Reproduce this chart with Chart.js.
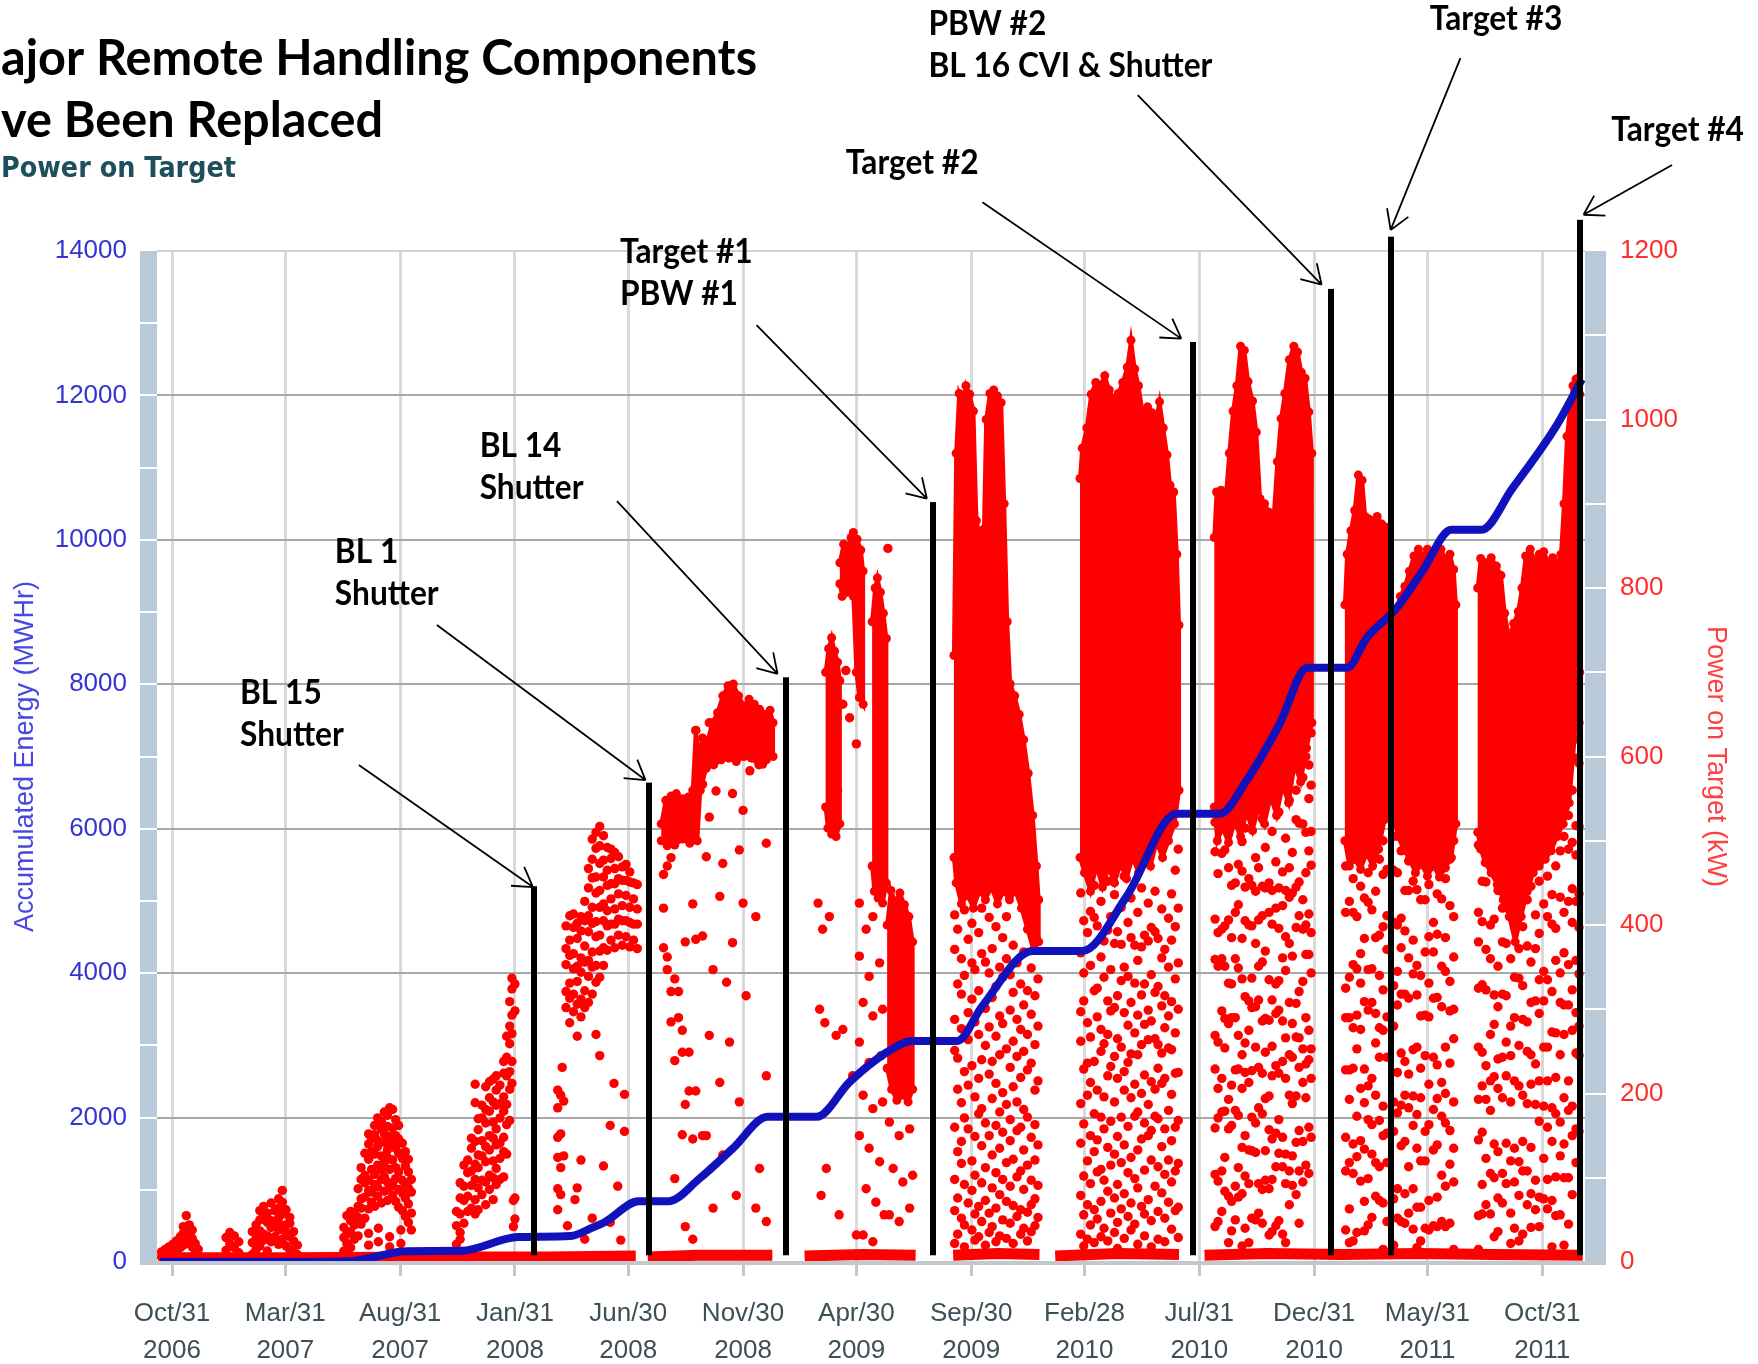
<!DOCTYPE html>
<html lang="en">
<head>
<meta charset="utf-8">
<title>Power on Target</title>
<script src="https://cdn.jsdelivr.net/npm/chart.js@4.4.1/dist/chart.umd.min.js"></script>
<style>
  html, body { margin: 0; padding: 0; background: #ffffff; }
  canvas { display: block; }
</style>
</head>
<body>
<canvas id="grafico" width="1758" height="1364"></canvas>
<script>
// x values are days counted from 2006-10-31
const tickDates = ['2006-10-31', '2007-03-31', '2007-08-31', '2008-01-31', '2008-06-30', '2008-11-30',
  '2009-04-30', '2009-09-30', '2010-02-28', '2010-07-31', '2010-12-31', '2011-05-31', '2011-10-31'];
const tickLabels = [['Oct/31', '2006'], ['Mar/31', '2007'], ['Aug/31', '2007'], ['Jan/31', '2008'],
  ['Jun/30', '2008'], ['Nov/30', '2008'], ['Apr/30', '2009'], ['Sep/30', '2009'], ['Feb/28', '2010'],
  ['Jul/31', '2010'], ['Dec/31', '2010'], ['May/31', '2011'], ['Oct/31', '2011']];

// accumulated energy (MWHr), left axis
const energyDays = [-16, 113, 237, 313, 385, 461, 531, 561, 577, 622, 661, 703, 747, 794, 859, 903, 952, 987,
  1046, 1080, 1147, 1213, 1272, 1339, 1396, 1432, 1476, 1513, 1566, 1592, 1632, 1666, 1705, 1745, 1786, 1845, 1879];
const energyMWh = [0, 0, 10, 150, 155, 345, 360, 480, 554, 840, 840, 1156, 1569, 2011, 2011, 2493, 2901, 3060,
  3060, 3545, 4307, 4307, 5060, 6208, 6208, 6667, 7450, 8229, 8229, 8641, 9057, 9561, 10140, 10140, 10709, 11582, 12224];

// power on target (kW), right axis. scattered readings: [day, kW, kW, ...]
const dots1 = [[-14,6,12],[-9,8,15],[-4,10,18],[1,12,21],[6,14,25],[11,17,30],[15,20,34,42],[19,25,38,55],
  [23,22,33,44],[27,18,28,38],[31,12,22],[35,8,15]];
const dots2 = [[72,14,29],[77,22,35],[83,17,31],[89,11,24],[107,9,23,36],[112,15,28,44],[117,19,37,50,61],
  [122,26,33,54,66],[127,13,31,47,58],[132,24,41,49,70],[137,30,45,61],[142,21,38,52,64,75],[147,27,43,57,71,85],
  [152,19,35,44,62],[157,15,30,46,53],[162,11,25,36],[167,9,20]];
const dots3 = [[229,13,29,41],[233,22,33,55],[238,17,36,49,60],[243,27,44,58],[248,31,53,66,87],
  [252,45,64,75,98,112],[257,52,77,94,103,129],[262,20,34,63,85,97,122,140,152],[266,71,83,110,131,147],
  [270,66,92,104,128,151,162],[274,78,89,115,137,144,171],[275,24,40],[279,70,98,109,126,158,167],
  [283,84,101,118,142,152,178],[287,73,95,124,133,161,174],[290,18,30,88,110,137,149,183],
  [294,79,93,121,140,159,181],[298,72,99,112,135,150,169],[302,65,86,107,129,146,162],[305,22,38],
  [307,61,82,97,123,141],[311,54,76,92,114,131],[315,47,69,88,107,122],[319,38,58,83,98]];
const dots4 = [[379,21,43,60],[384,27,35,57,76,94],[389,46,73,90,115],[394,60,78,106,121],[399,64,91,108,135,147],
  [404,57,74,98,116,143,189,211],[408,62,88,112,127,157,170],[413,80,97,126,144,171,186],
  [418,68,95,119,137,165,181,208],[423,86,103,133,150,179,195,214],[428,74,100,120,147,166,190,217],
  [432,92,111,139,158,186,204,221],[437,98,123,141,171,188,210],[442,101,131,148,179,196,224,238],
  [446,128,163,187,221,243,268],[450,168,205,226,259,280,309],[453,212,238,271,293,324,337],[455,42,73],
  [457,51,76,298,330]];
const dots5 = [[514,62,87,124,148,183,204],[518,80,112,152,198],[520,231],[522,126,191],[525,302,321,353,372,399],
  [527,43],[530,284,313,331,364,382,411],[535,297,318,348,366,397,413],[537,74],[540,88,268,306,333,351,384,402],
  [545,121,291,312,344,361,393,410],[550,27,302,322,356,375,405,428],[555,308,339,358,392,411,444,467],
  [560,52,318,350,368,402,421,456,478,502],[565,270,332,352,386,404,438,457,491,510],
  [570,245,338,369,388,421,441,473,494,517],[575,114,352,373,405,425,457,477,506],[580,370,399,417,447,465,492],
  [584,47,162],[585,382,401,431,449,479,490],[589,212],[590,373,401,419,449,467,486],[594,90],
  [595,388,407,437,455,481],[598,26],[600,376,405,423,453,469],[603,155,199],[605,386,405,435,453,472],
  [610,374,403,421,451,463],[615,382,401,431,450],[620,372,401,419,448]];
const dots6 = [[655,373,420,460],[660,347,362,470],[665,285,321,480],[670,99,239,336],[675,290,321],
  [680,151,249,275],[684,42,187,380],[689,203,249],[694,27,146,425],[698,203,383,631],[703,610],
  [707,150,387,567],[712,150,481],[716,269,528,640],[721,64,347],[725,559],[730,213,434],[734,127,473],
  [739,332],[743,261],[747,379,556],[752,79],[756,190,489],[761,426,536],[765,316],[770,583],
  [778,64,410],[783,111],[787,591],[792,48,221,497]];
const dots7 = [[861,426],[863,300],[865,79],[867,395],[870,284],[872,111],[876,410],[885,269],[887,560],
  [889,56],[894,276,662],[898,702],[903,646],[907,221],[912,32,615],[916,150,261,363,426],[921,32,198,308],
  [925,87,395],[929,135,237,339],[934,24,182,292,410],[938,71],[943,119,355],[945,245],[947,190,300],
  [949,56],[954,847],[956,56,166],[961,111],[969,48,150],[974,95],[983,64,158],[987,103]];
const dots8 = [[1043,412,371,288,251,160,98,61,22],[1047,395,330,242,205,131,76,33],[1052,360,318,277,189,143,117,52],
  [1056,418,340,226,171,92,44,18],[1061,383,296,264,210,158,70],[1066,402,355,312,233,120,85,38],
  [1070,347,285,196,149,103,57,26],[1075,391,322,270,218,176,66,30],[1079,420,366,240,182,138,94,48],
  [1084,356,301,257,165,112,73,20],[1089,409,343,279,223,150,58,35],[1093,372,314,238,194,127,88,42],
  [1098,398,327,268,212,162,106,64,24],[1103,350,292,246,178,135,80,31],[1107,385,338,283,201,154,98,50],
  [1112,410,360,253,187,118,72,28],[1117,341,299,231,169,144,90,46],[1121,376,320,262,208,122,67,22],
  [1126,355,288,244,190,156,101,54],[1131,330,276,219,160,108,62,33],[1135,368,305,250,181,133,86,40],
  [1140,322,270,228,172,115,59,25],[1145,349,294,236,148,97,68,36],[1150,316,258,204,163,121,75,43],
  [1154,336,280,215,139,91,53]];
const dots9 = [[1211,438,367,297,262,188,141,79,33],[1215,405,343,310,229,164,102,56,19],
  [1220,462,391,284,236,198,120,68,27],[1224,416,352,267,213,150,93,44],[1229,447,409,322,238,176,131,62,23],
  [1233,399,325,291,204,145,107,51],[1238,428,362,276,250,172,110,72,30],[1242,381,338,259,196,158,97,40],
  [1247,452,394,310,270,221,136,84,25],[1251,410,347,298,232,167,115,58],[1256,436,378,302,244,190,128,76,35],
  [1260,392,316,265,218,149,92,47,16],[1265,421,377,334,255,172,118,63],[1269,458,350,296,226,204,139,81,28],
  [1274,403,339,281,237,161,106,54],[1278,432,385,308,247,195,124,70,38],[1283,376,331,272,211,173,99,45],
  [1287,415,358,293,246,178,133,88,21],[1292,444,374,317,258,200,146,66],[1296,388,330,282,222,165,109,57,31],
  [1301,426,381,299,264,187,150,74],[1305,397,341,286,214,156,121,49,18],[1310,440,392,320,265,205,173,90],
  [1314,384,327,258,230,170,113,60,27],[1319,419,361,304,248,212,137,82],[1323,371,316,278,218,158,104,52,24],
  [1328,408,350,292,254,180,121,71],[1332,437,382,309,252,199,144,95,39],[1337,465,398,336,272,224,160,108,61],
  [1341,490,420,355,300,225,168,117,65,29]];
const dots10 = [[1390,522,487,407,359,269,229,159,104,42],[1394,461,391,351,261,206,171,96,48],
  [1399,540,485,395,360,298,218,178,108,60],[1403,489,399,351,289,254,179,124,84],
  [1408,508,468,406,331,283,193,158,78,23],[1412,447,385,330,290,210,162,72,37],
  [1417,530,450,415,360,290,228,180,90,50],[1421,472,424,349,269,229,174,112,77],
  [1426,499,464,384,336,246,206,136,81,19],[1430,515,445,405,315,260,225,150,102,40],
  [1435,455,400,310,275,213,133,93,23],[1439,537,447,399,337,302,227,172,132,52],
  [1444,480,440,378,303,255,165,130,50],[1448,468,406,351,311,231,183,93,58],
  [1453,526,446,411,356,286,224,176,86,46],[1457,492,444,369,289,249,194,132,97],
  [1462,450,415,335,287,197,157,87,32],[1466,511,441,401,311,256,221,146,98,36],
  [1471,475,420,330,295,233,153,113,43],[1475,534,444,396,334,299,224,169,129,49],
  [1480,463,423,361,286,238,148,113,33],[1484,503,441,386,346,266,218,128,93,23],
  [1489,548,468,433,378,308,246,198,108,68],[1493,486,438,363,283,243,188,126,91],
  [1498,560,525,445,397,307,267,197,142,80],[1502,521,451,411,321,266,231,156,108,46],
  [1507,575,520,430,395,333,253,213,143,95],[1511,600,510,462,400,365,290,235,195,115],
  [1515,590,550,488,413,365,275,240,160,105],[1518,628,566,511,471,391,343,253,218,148]];
const dots11 = [[1564,470,415,325,290,228,148,108,38],[1569,428,338,290,228,193,118,63,23],
  [1574,455,415,353,278,230,140,105,25],[1579,410,348,293,253,173,125,35],[1584,446,366,331,276,206,144,96],
  [1589,432,384,309,229,189,134,72,37],[1594,462,427,347,299,209,169,99,44],[1599,418,348,308,218,163,128,53],
  [1604,440,385,295,260,198,118,78],[1609,478,388,340,278,243,168,113,73],
  [1614,500,460,398,323,275,185,150,70,15],[1619,528,466,411,371,291,243,153,118,48]];
const dots12 = [[1628,505,465,403,328,280,190,155,75,20],[1633,462,400,345,305,225,177,87,52],
  [1638,488,408,373,318,248,186,138,48],[1643,441,393,318,238,198,143,81,46],[1648,476,441,361,313,223,183,113,58],
  [1654,452,382,342,252,197,162,87,39],[1659,497,442,352,317,255,175,135,65,17],[1664,430,340,292,230,195,120,65,25],
  [1670,470,430,368,293,245,155,120,40],[1675,448,386,331,291,211,163,73,38],[1681,483,403,368,313,243,181,133,43],
  [1686,437,389,314,234,194,139,77,42],[1692,466,431,351,303,213,173,103,48],[1697,455,385,345,255,200,165,90,42],
  [1703,478,423,333,298,236,156,116,46],[1708,500,410,362,300,265,190,135,95,15]];
const dots13 = [[1741,495,415,380,325,255,193,145,55,15],[1746,452,404,329,249,209,154,92,57],
  [1751,486,451,371,323,233,193,123,68],[1757,470,400,360,270,215,180,105,57],[1762,462,407,317,282,220,140,100,30],
  [1767,441,351,303,241,206,131,76,36],[1773,420,380,318,243,195,105,70],[1778,378,316,261,221,141,93],
  [1784,360,280,245,190,120,58,22],[1789,338,290,215,135,95,40],[1795,372,337,257,209,119,79,25],
  [1800,398,328,288,198,143,108,33],[1806,430,375,285,250,188,108,68],[1811,446,356,308,246,211,136,81,41],
  [1817,412,372,310,235,187,97,62],[1822,452,390,335,295,215,167,77,42],[1828,425,345,310,255,185,123,75],
  [1833,458,410,335,255,215,160,98,63],[1839,436,401,321,273,183,143,73,18],[1844,470,396,358,272,219,176,101,55],
  [1850,488,433,343,308,246,166,126,56],[1855,505,415,367,305,270,195,140,100,20],
  [1861,530,490,428,353,305,215,180,100,45],[1866,560,498,443,403,323,275,185,150,80],
  [1871,598,518,483,428,358,296,248,158,118],[1875,640,592,517,437,397,342,280,245,155]];

// dense parts of the power cloud: upper edge left->right, lower edge right->left, [day, kW]
const core6Top = [[652,520],[658,548],[665,553],[672,556],[680,550],[688,552],[694,560],[698,631],[702,600],[707,622],
  [713,616],[720,640],[727,652],[734,672],[741,684],[748,686],[755,672],[762,660],[769,668],[776,662],[783,656],
  [790,650],[797,655],[801,640]];
const core6Bot = [[801,600],[792,596],[782,590],[772,598],[762,600],[752,594],[742,598],[732,596],[722,590],[712,586],
  [704,560],[700,500],[690,497],[680,502],[670,495],[660,494],[652,500]];
const core7aTop = [[871,700],[875,728],[879,741],[883,725],[887,712],[890,690]];
const core7aBot = [[890,520],[885,505],[879,508],[874,515],[871,540]];
const core7bTop = [[890,830],[895,852],[900,848],[905,860],[908,866],[913,858],[918,845],[921,820]];
const core7bBot = [[921,662],[916,670],[912,700],[908,790],[900,795],[893,790],[890,805]];
const core7cTop = [[933,760],[937,800],[940,812],[944,795],[948,770],[952,740]];
const core7cBot = [[952,450],[947,426],[941,432],[936,440],[933,470]];
const core7dTop = [[953,400],[958,441],[964,428],[970,438],[976,424],[982,410],[987,380]];
const core7dBot = [[987,205],[981,190],[974,198],[966,192],[959,205],[953,230]];
const core8Top = [[1042,720],[1045,960],[1049,1031],[1054,1020],[1058,1040],[1063,1030],[1068,1010],[1072,880],
  [1077,860],[1082,870],[1085,1000],[1090,1031],[1095,1035],[1100,1028],[1105,1020],[1109,900],[1113,760],
  [1117,686],[1123,672],[1129,650],[1135,620],[1141,580],[1147,530],[1152,470],[1155,430]];
const core8Bot = [[1155,380],[1148,370],[1140,395],[1132,420],[1124,440],[1116,430],[1108,440],[1100,425],
  [1092,445],[1084,430],[1076,440],[1068,420],[1060,435],[1052,425],[1045,450],[1042,480]];
const core9Top = [[1210,930],[1213,966],[1219,990],[1225,1030],[1231,1044],[1237,1040],[1243,1052],[1249,1035],
  [1255,1025],[1261,1031],[1267,1044],[1273,1062],[1278,1094],[1283,1060],[1288,1040],[1294,1005],[1300,1015],
  [1306,1008],[1311,998],[1316,1021],[1321,990],[1326,958],[1330,922],[1335,914],[1339,840],[1342,756]];
const core9Bot = [[1342,560],[1336,520],[1328,500],[1320,480],[1312,498],[1304,470],[1296,488],[1288,462],
  [1280,480],[1272,455],[1264,472],[1256,450],[1248,468],[1240,445],[1232,470],[1224,440],[1216,462],[1210,480]];
const core10Top = [[1389,860],[1392,914],[1398,916],[1404,905],[1409,960],[1414,1010],[1419,1040],[1424,1087],
  [1429,1082],[1434,1045],[1440,1022],[1445,985],[1450,906],[1456,900],[1462,890],[1468,883],[1473,950],
  [1478,1001],[1483,1031],[1489,1071],[1495,1087],[1500,1080],[1505,1056],[1510,1049],[1515,1009],[1519,960]];
const core10Bot = [[1519,640],[1512,610],[1504,570],[1496,590],[1488,545],[1480,565],[1472,530],[1464,552],
  [1456,520],[1448,540],[1440,512],[1432,534],[1424,505],[1416,522],[1408,498],[1400,515],[1393,500],[1389,540]];
const core11Top = [[1563,780],[1566,840],[1571,868],[1576,892],[1581,934],[1586,928],[1590,885],[1595,882],
  [1600,878],[1606,885],[1612,876],[1618,872],[1622,860]];
const core11Bot = [[1622,560],[1616,525],[1608,490],[1600,470],[1592,485],[1584,466],[1576,478],[1569,470],[1563,500]];
const core12Top = [[1627,740],[1632,772],[1637,790],[1643,802],[1649,820],[1655,838],[1661,846],[1667,838],
  [1673,846],[1679,836],[1685,842],[1691,846],[1697,834],[1703,840],[1708,822],[1711,780]];
const core12Bot = [[1711,520],[1705,480],[1697,468],[1689,457],[1681,470],[1673,458],[1665,472],[1657,462],
  [1649,478],[1641,490],[1634,505],[1627,530]];
const core13Top = [[1740,800],[1744,835],[1751,830],[1758,836],[1765,826],[1771,815],[1776,770],[1782,740],
  [1788,758],[1794,772],[1799,800],[1804,838],[1810,846],[1816,832],[1822,840],[1828,843],[1834,830],[1840,836],
  [1846,828],[1851,840],[1855,900],[1859,980],[1863,1012],[1867,1040],[1871,1048],[1876,1030]];
const core13Bot = [[1876,700],[1869,620],[1862,545],[1854,520],[1846,505],[1838,488],[1830,478],[1822,470],
  [1814,462],[1806,440],[1798,410],[1790,380],[1782,410],[1774,430],[1766,448],[1758,462],[1750,474],[1744,490],[1740,510]];

// near-zero readings while beam was on, [day, kW]
const floorA = [[-16,5],[150,5],[350,6],[500,6],[618,7]];
const floorB = [[634,6],[700,8],[800,8]];
const floorC = [[843,7],[920,9],[991,8]];
const floorD = [[1041,8],[1100,10],[1156,9]];
const floorE = [[1177,7],[1260,10],[1342,9]];
const floorF = [[1376,8],[1460,10],[1560,9],[1660,10],[1760,9],[1880,8]];

// component replacements
const eventDays = [483, 635, 818, 1014, 1361, 1544, 1624, 1877];
const eventTopKW = [446, 569, 694, 902, 1092, 1155, 1217, 1237];
const eventTexts = [['BL 15', 'Shutter'], ['BL 1', 'Shutter'], ['BL 14', 'Shutter'], ['Target #1', 'PBW #1'],
  ['Target #2'], ['PBW #2', 'BL 16 CVI & Shutter'], ['Target #3'], ['Target #4']];


const RED = '#ff0000';
const BLUE = '#1212bd';
const dayOf = d => Math.round((Date.parse(d) - Date.parse('2006-10-31')) / 86400000);
const tickDays = tickDates.map(dayOf);

function columnsToPoints(cols) {
    const pts = [];
    cols.forEach(c => { for (let i = 1; i < c.length; i++) pts.push({ x: c[0], y: c[i] }); });
    return pts;
}
function shape(top, bottom) {
    return top.concat(bottom).map(p => ({ x: p[0], y: p[1] }));
}
function segments(list) {
    const pts = [];
    list.forEach((seg, i) => {
        if (i > 0) pts.push({ x: seg[0][0] - 1, y: null });
        seg.forEach(p => pts.push({ x: p[0], y: p[1] }));
    });
    return pts;
}

// label / arrow layout, in axis units (day, kW on the right axis)
const notes = [
    { at: [90.6, 662], from: [249, 590], tip: [481, 445] },
    { at: [217, 830], from: [353, 756], tip: [631, 572] },
    { at: [410, 955], from: [593, 903], tip: [807, 698] },
    { at: [597, 1186], from: [779, 1112], tip: [1006, 906] },
    { at: [898, 1291], from: [1080, 1258], tip: [1345, 1096] },
    { at: [1008, 1456], from: [1287, 1385], tip: [1532, 1160] },
    { at: [1676, 1462], from: [1717, 1429], tip: [1624, 1225] },
    { at: [1918, 1331], from: [1999, 1302], tip: [1881, 1243] }
];

function fitText(ctx, text, x, y, width) {
    const w = ctx.measureText(text).width;
    ctx.save();
    ctx.translate(x, y);
    ctx.scale(width / w, 1);
    ctx.fillText(text, 0, 0);
    ctx.restore();
}

const decor = {
    id: 'decor',
    beforeDraw(chart) {
        const { ctx, chartArea: a } = chart;
        const y = chart.scales.y, yR = chart.scales.yR;
        ctx.save();
        ctx.fillStyle = '#ffffff';
        ctx.fillRect(0, 0, chart.width, chart.height);
        ctx.fillStyle = '#b8c9da';
        ctx.fillRect(a.left - 17, a.top, 17, a.bottom - a.top);
        ctx.fillRect(a.right, a.top, 21, a.bottom - a.top);
        ctx.strokeStyle = '#ffffff';
        ctx.lineWidth = 2;
        ctx.beginPath();
        for (let v = 1000; v < 14000; v += 1000) {
            const p = Math.round(y.getPixelForValue(v));
            ctx.moveTo(a.left - 17, p); ctx.lineTo(a.left, p);
        }
        for (let v = 100; v < 1200; v += 100) {
            const p = Math.round(yR.getPixelForValue(v));
            ctx.moveTo(a.right, p); ctx.lineTo(a.right + 21, p);
        }
        ctx.stroke();
        ctx.restore();
    },
    afterDatasetsDraw(chart) {
        const { ctx, chartArea: a } = chart;
        const x = chart.scales.x, yR = chart.scales.yR;
        const P = (d, k) => [x.getPixelForValue(d), yR.getPixelForValue(k)];
        ctx.save();
        ctx.strokeStyle = '#c2c8ce';
        ctx.lineWidth = 4;
        ctx.beginPath();
        ctx.moveTo(a.left - 17, a.bottom + 1);
        ctx.lineTo(a.right + 21, a.bottom + 1);
        ctx.stroke();

        // black markers
        ctx.fillStyle = '#000000';
        eventDays.forEach((d, i) => {
            const px = x.getPixelForValue(d);
            const top = yR.getPixelForValue(eventTopKW[i]);
            const bottom = yR.getPixelForValue(8);
            ctx.fillRect(Math.round(px - 3), top, 6, bottom - top);
        });

        // arrows
        ctx.strokeStyle = '#000000';
        ctx.lineWidth = 1.8;
        notes.forEach(n => {
            const [sx, sy] = P(n.from[0], n.from[1]);
            const [tx, ty] = P(n.tip[0], n.tip[1]);
            const ang = Math.atan2(ty - sy, tx - sx);
            ctx.beginPath();
            ctx.moveTo(sx, sy); ctx.lineTo(tx, ty);
            [-0.55, 0.55].forEach(da => {
                ctx.moveTo(tx, ty);
                ctx.lineTo(tx - 22 * Math.cos(ang + da), ty - 22 * Math.sin(ang + da));
            });
            ctx.stroke();
        });

        // labels
        ctx.font = 'bold 34px Lato, "Open Sans", sans-serif';
        ctx.textBaseline = 'alphabetic';
        const sx = 284 / ctx.measureText('BL 16 CVI & Shutter').width;
        eventTexts.forEach((lines, i) => {
            const [lx, ly] = P(notes[i].at[0], notes[i].at[1]);
            lines.forEach((t, j) => {
                const w = ctx.measureText(t).width * sx;
                fitText(ctx, t, lx, ly + j * 42, w);
            });
        });
        ctx.restore();
    },
    afterDraw(chart) {
        const ctx = chart.ctx;
        ctx.save();
        ctx.fillStyle = '#000000';
        ctx.textBaseline = 'alphabetic';
        ctx.font = 'bold 49px Lato, "Open Sans", sans-serif';
        fitText(ctx, 'ajor Remote Handling Components', 1, 75, 756);
        const k = 756 / ctx.measureText('ajor Remote Handling Components').width;
        fitText(ctx, 've Been Replaced', 1, 137, ctx.measureText('ve Been Replaced').width * k);
        ctx.fillStyle = '#1f4f5c';
        ctx.font = 'bold 28px "DejaVu Sans", sans-serif';
        fitText(ctx, 'Power on Target', 1, 177, 235);
        ctx.restore();
    }
};

Chart.defaults.font.family = '"Liberation Sans", Arial, sans-serif';
Chart.defaults.font.size = 26;

const cores = [[core6Top, core6Bot], [core7aTop, core7aBot], [core7bTop, core7bBot], [core7cTop, core7cBot],
    [core7dTop, core7dBot], [core8Top, core8Bot], [core9Top, core9Bot], [core10Top, core10Bot],
    [core11Top, core11Bot], [core12Top, core12Bot], [core13Top, core13Bot]];

const datasets = [
    {
        type: 'line', label: 'Accumulated Energy', yAxisID: 'y',
        data: energyDays.map((d, i) => ({ x: d, y: energyMWh[i] })),
        borderColor: BLUE, borderWidth: 8, pointRadius: 0, cubicInterpolationMode: 'monotone', order: 0
    },
    {
        type: 'scatter', label: 'Power on Target', yAxisID: 'yR',
        data: columnsToPoints([].concat(dots1, dots2, dots3, dots4, dots5, dots6, dots7, dots8, dots9,
            dots10, dots11, dots12, dots13)),
        backgroundColor: RED, borderWidth: 0, pointRadius: 4.7, order: 1
    },
    {
        type: 'line', label: 'floor', yAxisID: 'yR',
        data: segments([floorA, floorB, floorC, floorD, floorE, floorF]),
        borderColor: RED, borderWidth: 11, pointRadius: 0, spanGaps: false, order: 3
    }
];
cores.forEach(c => datasets.push({
    type: 'line', label: 'core', yAxisID: 'yR', data: shape(c[0], c[1]),
    fill: 'shape', backgroundColor: RED, borderColor: RED, borderWidth: 4, tension: 0,
    pointRadius: 4.5, pointBackgroundColor: RED, pointBorderWidth: 0, order: 2
}));

new Chart(document.getElementById('grafico'), {
    type: 'scatter',
    data: { datasets: datasets },
    options: {
        responsive: false,
        animation: false,
        events: [],
        layout: { padding: { top: 251, left: 0, right: 0, bottom: 0 } },
        plugins: { legend: { display: false }, tooltip: { enabled: false } },
        scales: {
            x: {
                type: 'linear', min: -20, max: 1883, offset: false,
                afterBuildTicks: s => { s.ticks = tickDays.map(v => ({ value: v })); },
                afterFit: s => { s.height = 102; },
                ticks: {
                    autoSkip: false, maxRotation: 0, minRotation: 0, padding: 19, color: '#3d4f57',
                    font: { size: 26, lineHeight: 1.42 },
                    callback: (v, i) => tickLabels[i]
                },
                grid: { color: '#d9d9d9', lineWidth: 3, tickLength: 14, tickColor: '#c6c6c6', offset: false },
                border: { display: false }
            },
            y: {
                type: 'linear', position: 'left', min: 0, max: 14000,
                afterFit: s => { s.width = 157; },
                ticks: { stepSize: 2000, color: '#3434d4', padding: 30, callback: v => String(v) },
                grid: { color: c => c.tick && c.tick.value === 14000 ? '#d2d2d2' : '#a8a8a8', lineWidth: 2, drawTicks: false },
                border: { display: false },
                title: { display: true, text: 'Accumulated Energy (MWHr)', color: '#4848e0', font: { size: 27 }, padding: { top: 9, bottom: 0 } }
            },
            yR: {
                type: 'linear', position: 'right', min: 0, max: 1200,
                afterFit: s => { s.width = 173; },
                ticks: { stepSize: 200, color: '#ff2d2d', padding: 35, callback: v => String(v) },
                grid: { drawOnChartArea: false, drawTicks: false },
                border: { display: false },
                title: { display: true, text: 'Power on Target (kW)', color: '#ff4040', font: { size: 27 }, padding: { top: 26, bottom: 0 } }
            }
        }
    },
    plugins: [decor]
});
</script>
</body>
</html>
